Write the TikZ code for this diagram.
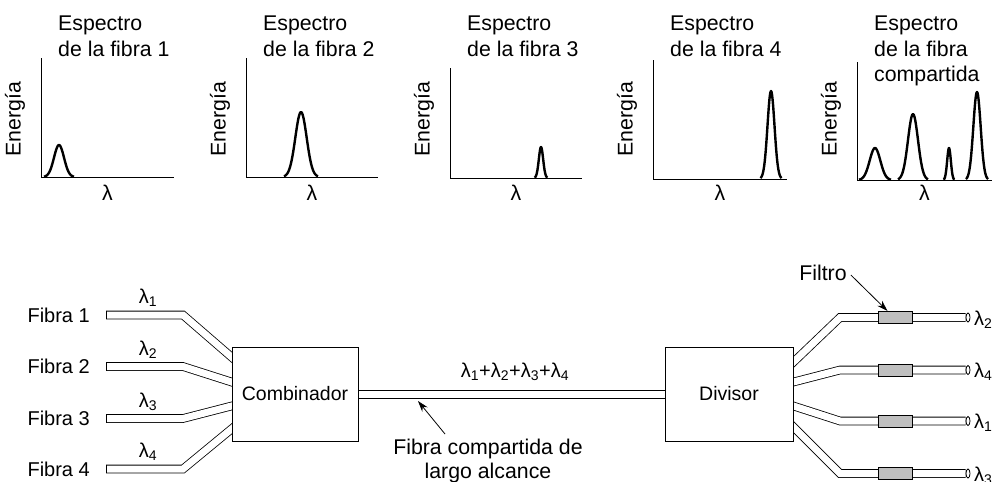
\documentclass[tikz,border=0pt]{standalone}
\usepackage{fontspec}
\setmainfont{Liberation Sans}
\usetikzlibrary{positioning,arrows.meta,backgrounds,shapes.geometric}

\tikzset{
  rotulo/.style={font=\fontsize{20}{25}\selectfont, inner sep=0pt},
  grande/.style={font=\fontsize{21.3}{25.5}\selectfont, inner sep=0pt},
  eje/.style={line width=1pt},
  pico/.style={line width=2.4pt, line join=round},
  fibra/.style={line width=0.8pt, double=white, double distance=7pt},
  borde/.style={line width=0.8pt},
  caja/.style={draw, line width=1pt, fill=white, minimum width=126pt, minimum height=94pt, font=\fontsize{19.5}{24}\selectfont},
  filtro/.style={draw, line width=1pt, fill=black!25, minimum width=34pt, minimum height=12pt, inner sep=0pt},
  punta/.style={draw, ellipse, line width=0.8pt, minimum width=4pt, minimum height=9pt, inner sep=0pt, fill=white},
  flecha/.style={line width=0.8pt, -{Stealth[length=11pt,width=7pt]}},
}
\newcommand{\lam}[1]{λ\textsubscript{#1}}
% center, half base, height, base line
\newcommand{\peak}[4]{\draw[pico] plot[domain=-1:1, samples=41, smooth] ({#1+#2*\x}, {#4-#3*exp(-4.5*\x*\x)});}

\begin{document}
\begin{tikzpicture}[x=1pt,y=-1pt]
\useasboundingbox (0,0) rectangle (994,482);

% spectra
\foreach \ax/\tp/\bs/\xe/\ttl [count=\n] in {41/58/177/174/{Espectro\\de la fibra 1},
    246/58/177/378/{Espectro\\de la fibra 2}, 450/68/178/582/{Espectro\\de la fibra 3},
    653/60/179/787/{Espectro\\de la fibra 4}, 857/62/180/992/{Espectro\\de la fibra\\compartida}} {
  \draw[eje] (\ax,\tp) -- (\ax,\bs) -- (\xe,\bs);
  \node[grande, align=left, anchor=north west] (t\n) at (\ax+17,16) {\ttl};
  \node[grande, rotate=90] (en\n) at (\ax-26,119) {Energía};
  \node[grande] (lam\n) at ({(\ax+\xe)/2},193) {λ};
}
\peak{59}{15}{32}{177}
\peak{301}{17}{65}{177}
\peak{541}{6.5}{31}{178}
\peak{771}{10.5}{88}{179}
\peak{875}{16}{32}{180}
\peak{913}{15}{66}{180}
\peak{949}{5.5}{32}{180}
\peak{977}{11}{88}{180}

% combiner and splitter
\node[caja] (comb) at (295,394) {Combinador};
\node[caja, minimum width=128pt] (div) at (729,394) {Divisor};

% incoming fibres
\foreach \n/\yh/\dy in {1/315/37, 2/366.5/12, 3/418.5/-12, 4/469/-35} {
  \coordinate (in\n) at (106,\yh);
  \node[rotulo, anchor=east] (fib\n) at (90,\yh) {Fibra \n};
  \node[rotulo] (l\n) at (148,\yh-17) {\lam{\n}};
  \begin{scope}[on background layer]
    \draw[fibra, shorten >=-6pt] (in\n) -- (183,\yh) -- ([yshift=\dy pt]comb.west);
  \end{scope}
  \draw[borde] ([yshift=4.3pt]in\n) -- ([yshift=-4.3pt]in\n);
}

% shared fibre
\draw[borde] ([yshift=3.9pt]comb.east) -- ([yshift=3.9pt]div.west);
\draw[borde] ([yshift=-3.9pt]comb.east) -- ([yshift=-3.9pt]div.west);
\node[rotulo] (suma) at (515,372) {\lam{1}+\lam{2}+\lam{3}+\lam{4}};
\node[grande, align=center, anchor=north] (comp) at (488,439) {Fibra compartida de\\[-1.5pt]largo alcance};
\coordinate (c1) at (418,401);
\draw[flecha] ([xshift=-43pt,yshift=5pt]comp.north) -- (c1);

% outgoing fibres
\foreach \n/\yh/\dy in {2/317.5/32, 4/370/12, 1/421/-12, 3/473.5/-33} {
  \node[punta] (o\n) at (968,\yh) {};
  \node[filtro] (f\n) at (895,\yh) {};
  \node[rotulo, anchor=west] (r\n) at (974,\yh+2) {\lam{\n}};
  \begin{scope}[on background layer]
    \draw[fibra, shorten <=-6pt] ([yshift=\dy pt]div.east) -- (840,\yh) -- (o\n.west);
  \end{scope}
}
\node[grande] (filt) at (823,273) {Filtro};
\draw[flecha] ([xshift=4pt,yshift=-2pt]filt.east) -- ([xshift=10pt]f2.north west);
\end{tikzpicture}
\end{document}
